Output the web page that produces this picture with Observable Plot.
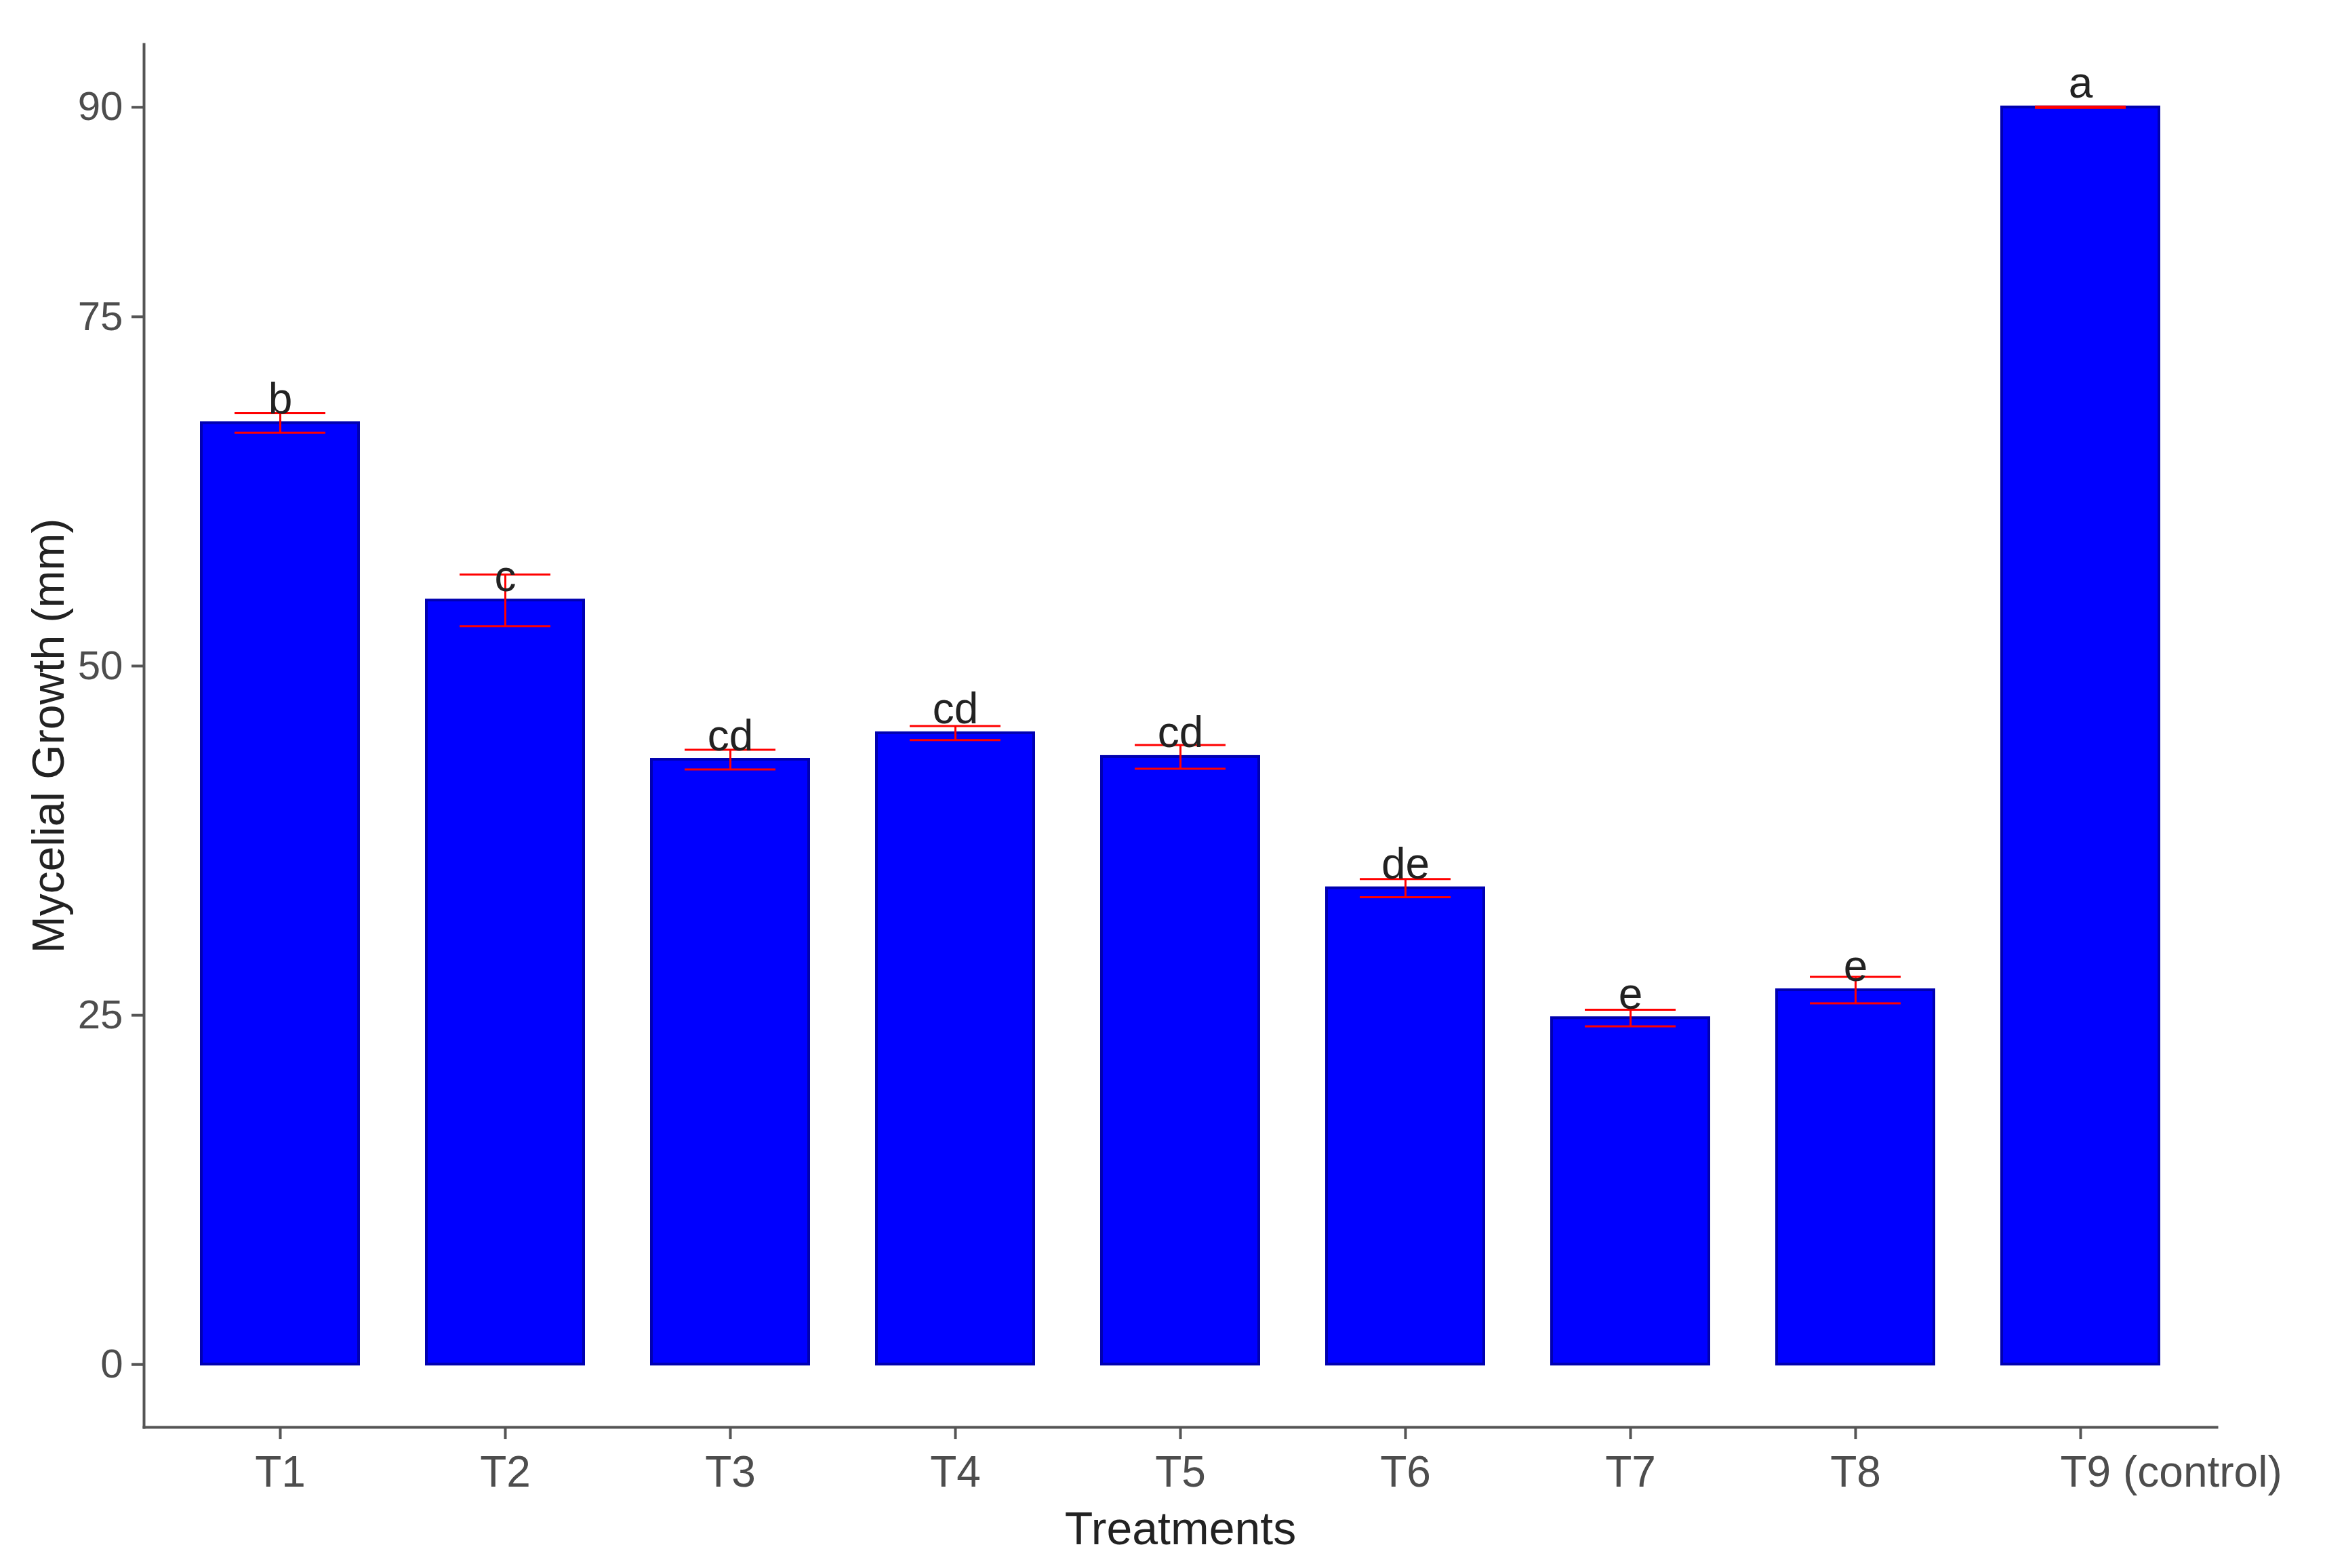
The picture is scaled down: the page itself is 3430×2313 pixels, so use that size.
<!DOCTYPE html>
<html>
<head>
<meta charset="utf-8">
<script src="https://cdn.jsdelivr.net/npm/d3@7"></script>
<script src="https://cdn.jsdelivr.net/npm/@observablehq/plot@0.6"></script>
<style>
  html, body { margin: 0; padding: 0; background: #ffffff; }
  #chart svg { display: block; background: #ffffff; }
</style>
</head>
<body>
<div id="chart"></div>
<script>
// ---- data ----
const treatments = ["T1", "T2", "T3", "T4", "T5", "T6", "T7", "T8", "T9 (control)"];
const growth     = [67.4, 54.7, 43.3, 45.2, 43.5, 34.1, 24.8, 26.8, 90.0];
const stdErr     = [0.7, 1.85, 0.7, 0.5, 0.85, 0.65, 0.6, 0.95, 0.05];
const letters    = ["b", "c", "cd", "cd", "cd", "de", "e", "e", "a"];
const yTicks     = [0, 25, 50, 75, 90];
const xTitle = "Treatments";
const yTitle = "Mycelial Growth (mm)";

const rows = treatments.map((t, i) => ({
  t, v: growth[i], lo: growth[i] - stdErr[i], hi: growth[i] + stdErr[i], g: letters[i]
}));
const controlName = treatments[treatments.length - 1];

const font = "'Liberation Sans', Arial, Helvetica, sans-serif";

const chart = Plot.plot({
  width: 3430,
  height: 2313,
  marginLeft: 212,
  marginRight: 160,
  marginTop: 65,
  marginBottom: 208,
  style: { fontFamily: font, background: "#ffffff" },
  x: { type: "band", domain: treatments, paddingInner: 0.3, paddingOuter: 0.25, align: 0.5 },
  y: { domain: [-4.5, 94.5] },
  marks: [
    Plot.barY(rows, { x: "t", y1: 0, y2: "v", fill: "#0000ff", stroke: "#0000b0", strokeWidth: 4 }),
    Plot.ruleX(rows, { x: "t", y1: "lo", y2: "hi", stroke: "#ff0000", strokeWidth: 3 }),
    Plot.tickY(rows, { x: "t", y: "lo", stroke: "#ff0000", strokeWidth: 3, insetLeft: 49, insetRight: 49 }),
    Plot.tickY(rows, { x: "t", y: "hi", stroke: "#ff0000", strokeWidth: 3, insetLeft: 49, insetRight: 49 }),
    Plot.text(rows, { x: "t", y: "v", text: "g", dy: -14, lineAnchor: "bottom", fontSize: 64, fill: "#222222" }),
    Plot.frame({ anchor: "left", stroke: "#555555", strokeWidth: 4 }),
    Plot.frame({ anchor: "bottom", stroke: "#555555", strokeWidth: 4 }),
    Plot.axisY({ ticks: yTicks, tickSize: 18, tickPadding: 13, fontSize: 60, color: "#4d4d4d", stroke: "#555555", strokeWidth: 4, label: null }),
    Plot.axisX({ ticks: treatments, tickFormat: d => (d === controlName ? "" : d), tickSize: 18, tickPadding: 24, fontSize: 64, color: "#4d4d4d", stroke: "#555555", strokeWidth: 4, label: null }),
    Plot.axisX({ ticks: [controlName], tickSize: 0, tickPadding: 42, fontSize: 64, color: "#4d4d4d", textAnchor: "start", dx: -30, label: null }),
    Plot.text([yTitle], { frameAnchor: "left", dx: -140, rotate: -90, fontSize: 66, fill: "#222222", lineAnchor: "middle", textAnchor: "middle" }),
    Plot.text([xTitle], { frameAnchor: "bottom", dy: 172, fontSize: 68, fill: "#222222", lineAnchor: "bottom", textAnchor: "middle" })
  ]
});

document.getElementById("chart").appendChild(chart);
</script>
</body>
</html>
